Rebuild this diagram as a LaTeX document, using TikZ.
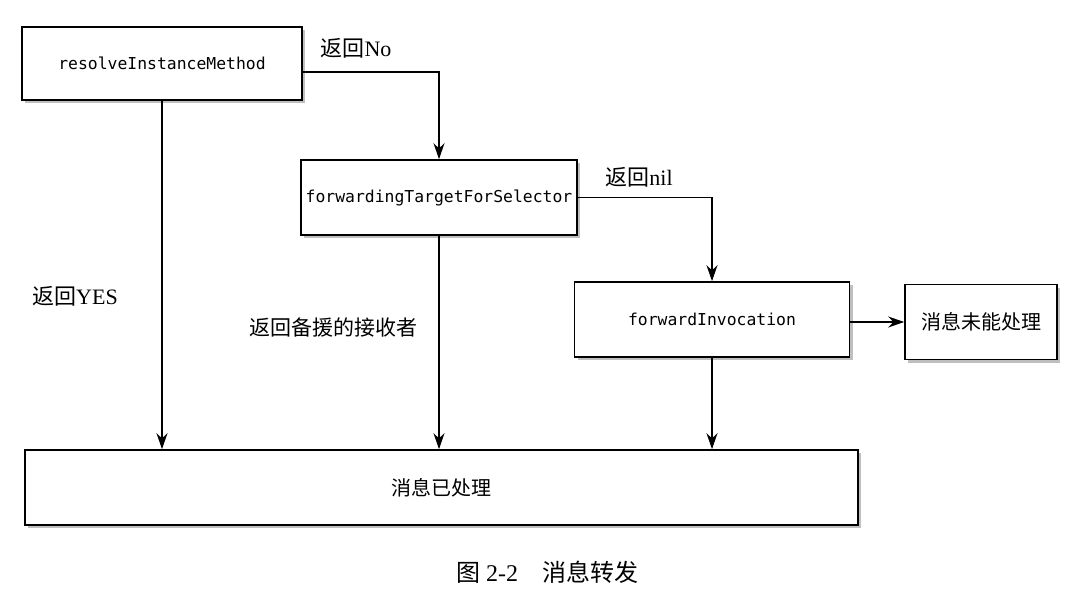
\documentclass[tikz,border=0pt]{standalone}
\usepackage{fontspec}
\setmainfont{Liberation Serif}
\setmonofont{DejaVu Sans Mono}
\newfontfamily\cjk{Noto Sans CJK SC}
\usetikzlibrary{arrows.meta,shadows}

\tikzset{
  stepbox/.style={draw, line width=0.8pt, fill=white, inner xsep=1pt, font=\ttfamily\fontsize{8.2}{10}\selectfont,
    drop shadow={shadow xshift=1.6pt, shadow yshift=-1.6pt, fill=black!50}},
  arr/.style={line width=0.75pt, -{Stealth[length=8pt, width=5.5pt]}},
  lbl/.style={font=\fontsize{11}{13}\selectfont}
}

\begin{document}
\begin{tikzpicture}[x=0.5pt, y=-0.5pt]
            \useasboundingbox (0,0) rectangle (1087,593);

            % Draw boxes
            \node[stepbox, minimum width=140pt, minimum height=36.5pt] (resolve) at (162,63.5) {resolveInstanceMethod};
            \node[stepbox, minimum width=138pt, minimum height=37.5pt] (fwdTarget) at (439,197.5) {forwardingTargetForSelector};
            \node[stepbox, minimum width=137.5pt, minimum height=37.5pt] (fwdInv) at (712,319.5) {forwardInvocation};
            \node[stepbox, minimum width=76pt, minimum height=37.5pt, font=\cjk\fontsize{10}{12}\selectfont] (unhandled) at (981,322) {消息未能处理};
            \node[stepbox, minimum width=416.5pt, minimum height=37.5pt, font=\cjk\fontsize{10}{12}\selectfont] (handled) at (441.5,487.5) {消息已处理};

            % Forwarding steps
            \draw[arr] ([yshift=-4.25pt]resolve.east) -| (fwdTarget.north);
            \draw[arr] (fwdTarget.east) -| (fwdInv.north);
            \draw[arr] (fwdInv.east |- unhandled) -- (unhandled.west);

            % Message handled
            \foreach \src in {resolve, fwdTarget, fwdInv}
                \draw[arr] (\src.south) -- (\src.south |- handled.north);

            % Label arrows
            \node[lbl] (lblNo) at (356,48) {{\cjk 返回}No};
            \node[lbl] (lblNil) at (639,177) {{\cjk 返回}nil};
            \node[lbl] (lblYes) at (75,296) {{\cjk 返回}YES};
            \node[lbl, font=\cjk\fontsize{10.5}{13}\selectfont] (lblBackup) at (333,328) {返回备援的接收者};

            % Caption
            \node[font=\fontsize{12}{14}\selectfont] (caption) at (547,572) {{\cjk 图} 2-2\quad{\cjk 消息转发}};
        \end{tikzpicture}
\end{document}
